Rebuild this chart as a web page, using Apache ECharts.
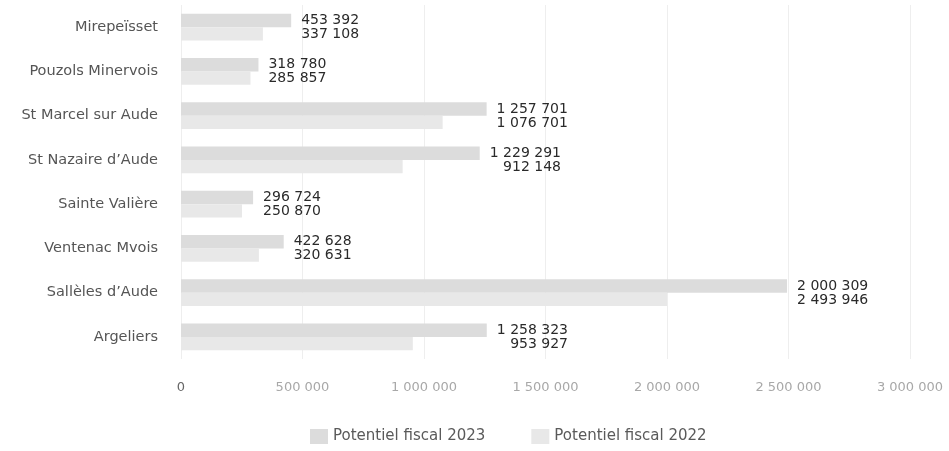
<!DOCTYPE html>
<html>
<head>
<meta charset="utf-8">
<script src="https://cdn.jsdelivr.net/npm/echarts@6/dist/echarts.min.js"></script>
<style>
html,body{margin:0;padding:0;background:#fff;}
#chart{width:949px;height:451px;}
</style>
</head>
<body>
<div id="chart"></div>
<script>
const categories = ["Mirepeïsset","Pouzols Minervois","St Marcel sur Aude","St Nazaire d’Aude","Sainte Valière","Ventenac Mvois","Sallèles d’Aude","Argeliers"];
const values2023 = [453392, 318780, 1257701, 1229291, 296724, 422628, 2493946, 1258323];
const values2022 = [337108, 285857, 1076701, 912148, 250870, 320631, 2000309, 953927];
const labelsTop = ["453 392","318 780","1 257 701","1 229 291","296 724","422 628","2 000 309","1 258 323"];
const labelsBottom = ["337 108","285 857","1 076 701","912 148","250 870","320 631","2 493 946","953 927"];
const xTicks = [0, 500000, 1000000, 1500000, 2000000, 2500000, 3000000];
const seriesNames = ["Potentiel fiscal 2023","Potentiel fiscal 2022"];

const FONT = "DejaVu Sans";
function fmt(v){ return String(v).replace(/\B(?=(\d{3})+(?!\d))/g, " "); }

const chart = echarts.init(document.getElementById('chart'));
chart.setOption({
  animation: false,
  backgroundColor: '#ffffff',
  textStyle: { fontFamily: FONT },
  grid: { left: 181, right: 39, top: 5, bottom: 92, containLabel: false },
  legend: {
    data: seriesNames,
    left: 305, bottom: 2,
    icon: 'rect', itemWidth: 18, itemHeight: 15, itemGap: 46,
    textStyle: { fontFamily: FONT, fontSize: 15, color: '#5a5a5a' }
  },
  xAxis: {
    type: 'value', min: xTicks[0], max: xTicks[xTicks.length-1], interval: xTicks[1]-xTicks[0],
    axisLine: { show: false }, axisTick: { show: false },
    splitLine: { lineStyle: { color: '#eeeeee', width: 1 } },
    axisLabel: {
      margin: 22, fontFamily: FONT, fontSize: 13,
      color: v => (Number(v) === 0 ? '#666' : '#a8a8a8'),
      formatter: v => fmt(v)
    }
  },
  yAxis: {
    type: 'category', data: categories, inverse: true,
    axisLine: { show: false }, axisTick: { show: false },
    axisLabel: { margin: 23, fontFamily: FONT, fontSize: 14.5, color: '#555' }
  },
  series: [
    {
      name: seriesNames[0], type: 'bar', data: values2023,
      barGap: '0%', barCategoryGap: '39%',
      itemStyle: { color: '#dcdcdc' },
      label: {
        show: true, position: 'right', distance: 10, offset: [0, 7],
        fontFamily: FONT, fontSize: 14, color: '#2a2a2a', lineHeight: 14,
        formatter: p => '{a|' + labelsTop[p.dataIndex] + '}\n{a|' + labelsBottom[p.dataIndex] + '}',
        rich: { a: { align: 'right', fontFamily: FONT, fontSize: 14, color: '#2a2a2a', lineHeight: 14 } }
      }
    },
    {
      name: seriesNames[1], type: 'bar', data: values2022,
      barGap: '0%', barCategoryGap: '39%',
      itemStyle: { color: '#e8e8e8' }
    }
  ]
});
</script>
</body>
</html>
